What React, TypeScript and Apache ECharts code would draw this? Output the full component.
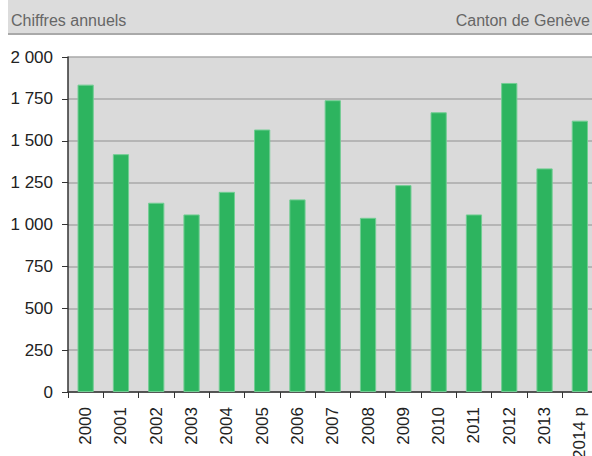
import React, { useEffect, useRef } from "react";
import * as echarts from "echarts";

const categories = ["2000", "2001", "2002", "2003", "2004", "2005", "2006", "2007", "2008", "2009", "2010", "2011", "2012", "2013", "2014 p"];
const values = [1835, 1420, 1130, 1060, 1195, 1567, 1150, 1742, 1040, 1235, 1670, 1060, 1845, 1335, 1620];
const headerLeft = "Chiffres annuels";
const headerRight = "Canton de Genève";

const fmt = (v: number) => {
  const s = String(Math.round(v));
  return s.replace(/\B(?=(\d{3})+(?!\d))/g, " ");
};

export default function App() {
  const ref = useRef<HTMLDivElement>(null);
  useEffect(() => {
    if (!ref.current) return;
    const chart = echarts.init(ref.current, null, { renderer: "svg" });
    const font = "'Liberation Sans', Arial, sans-serif";
    chart.setOption({
      animation: false,
      backgroundColor: "#ffffff",
      graphic: [
        { type: "rect", shape: { x: 8, y: 0, width: 584, height: 33 }, style: { fill: "#dcdcdc" }, z: 0 },
        { type: "line", shape: { x1: 8, y1: 34, x2: 592, y2: 34 }, style: { stroke: "#a9a9a9", lineWidth: 2 } },
        { type: "text", x: 11, y: 20, style: { text: headerLeft, fill: "#666666", font: `16px ${font}`, textVerticalAlign: "middle", textAlign: "left" } },
        { type: "text", x: 590, y: 20, style: { text: headerRight, fill: "#666666", font: `16px ${font}`, textVerticalAlign: "middle", textAlign: "right" } },
      ],
      grid: {
        left: 68,
        top: 57,
        width: 529.5,
        height: 335,
        show: true,
        backgroundColor: "#dadada",
        borderWidth: 0,
        containLabel: false,
        outerBoundsMode: "none",
      },
      xAxis: {
        type: "category",
        data: categories,
        boundaryGap: true,
        axisLine: { show: true, lineStyle: { color: "#333333", width: 1.5 } },
        axisTick: { show: true, alignWithLabel: false, length: 6, lineStyle: { color: "#333333", width: 1 } },
        axisLabel: { rotate: 90, margin: 15, color: "#222222", fontSize: 17, fontFamily: font, interval: 0 },
        splitLine: { show: false },
      },
      yAxis: {
        type: "value",
        min: 0,
        max: 2000,
        interval: 250,
        axisLine: { show: true, lineStyle: { color: "#333333", width: 1.5 } },
        axisTick: { show: true, length: 6, lineStyle: { color: "#333333", width: 1 } },
        axisLabel: { margin: 15, color: "#222222", fontSize: 17, fontFamily: font, formatter: (v: number) => fmt(v) },
        splitLine: { show: true, lineStyle: { color: "#a8a8a8", width: 1.5 } },
      },
      series: [
        {
          type: "bar",
          data: values,
          barWidth: "46%",
          itemStyle: { color: "#2db45f", borderColor: "#72cd93", borderWidth: 1 },
        },
      ],
    });
    return () => chart.dispose();
  }, []);
  return <div ref={ref} style={{ position: "fixed", left: 0, top: 0, width: 592, height: 456 }} />;
}
